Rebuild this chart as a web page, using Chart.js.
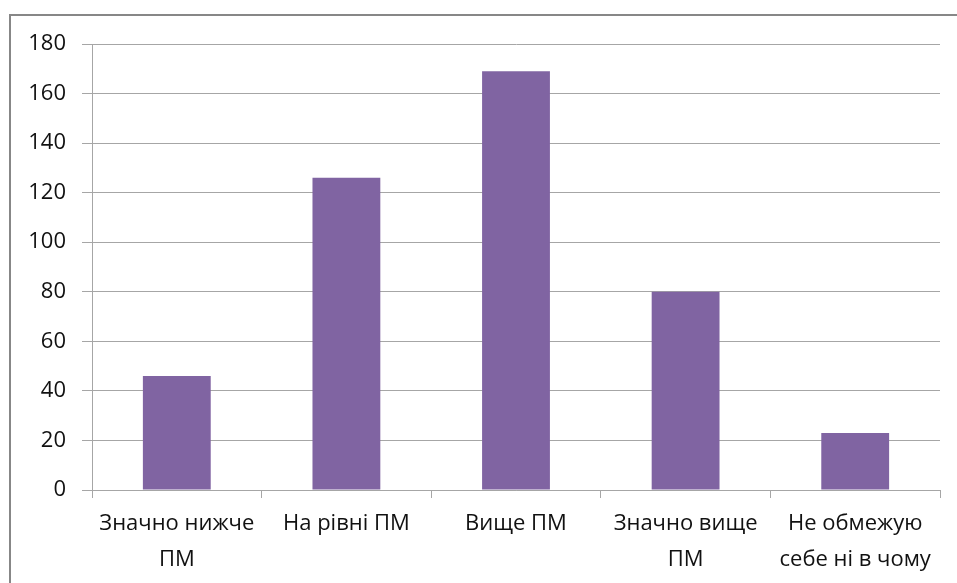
<!DOCTYPE html>
<html>
<head>
<meta charset="utf-8">
<script src="https://cdn.jsdelivr.net/npm/chart.js@4/dist/chart.umd.min.js"></script>
<style>
  html, body { margin: 0; padding: 0; background: #fff; }
  #wrap { width: 957px; height: 583px; position: relative; }
</style>
</head>
<body>
<div id="wrap"><canvas id="c" width="957" height="583"></canvas></div>
<script>
// Categories (x axis), multi-line where the label wraps
const categories = [
  ['Значно нижче', 'ПМ'],
  'На рівні ПМ',
  'Вище ПМ',
  ['Значно вище', 'ПМ'],
  ['Не обмежую', 'себе ні в чому']
];
// Number of respondents per category
const values = [46, 126, 169, 80, 23];
// Y axis range
const yMin = 0;
const yMax = 180;
const yStep = 20;

const FONT = "'Open Sans', 'DejaVu Sans', sans-serif";

// Outer chart frame
const framePlugin = {
  id: 'frame',
  beforeDraw(chart) {
    const ctx = chart.ctx;
    ctx.save();
    ctx.fillStyle = '#fff';
    ctx.fillRect(0, 0, chart.width, chart.height);
    ctx.strokeStyle = '#878787';
    ctx.lineWidth = 2;
    ctx.strokeRect(10, 15, chart.width + 20, chart.height + 20);
    ctx.restore();
  }
};

new Chart(document.getElementById('c'), {
  type: 'bar',
  data: {
    labels: categories,
    datasets: [{
      data: values,
      backgroundColor: '#8064A2',
      borderWidth: 0,
      barPercentage: 0.4,
      categoryPercentage: 1.0
    }]
  },
  options: {
    responsive: false,
    animation: false,
    layout: { padding: { top: 44, right: 17, left: 0, bottom: 0 } },
    plugins: { legend: { display: false }, tooltip: { enabled: false } },
    scales: {
      x: {
        grid: {
          display: true,
          drawOnChartArea: false,
          drawTicks: true,
          tickLength: 8,
          color: '#a6a6a6',
          offset: true
        },
        border: { display: true, color: '#a6a6a6', width: 1 },
        ticks: {
          color: '#111',
          font: { family: FONT, size: 22, lineHeight: 1.62 },
          padding: 8,
          maxRotation: 0,
          autoSkip: false
        },
        afterFit(scale) { scale.height = 93; }
      },
      y: {
        min: yMin,
        max: yMax,
        grid: {
          color: '#a6a6a6',
          lineWidth: 1,
          tickLength: 10,
          drawTicks: true
        },
        border: { display: true, color: '#a6a6a6', width: 1 },
        ticks: {
          stepSize: yStep,
          color: '#111',
          font: { family: FONT, size: 22 },
          padding: 16
        },
        afterFit(scale) { scale.width = 92; }
      }
    }
  },
  plugins: [framePlugin]
});
</script>
</body>
</html>
